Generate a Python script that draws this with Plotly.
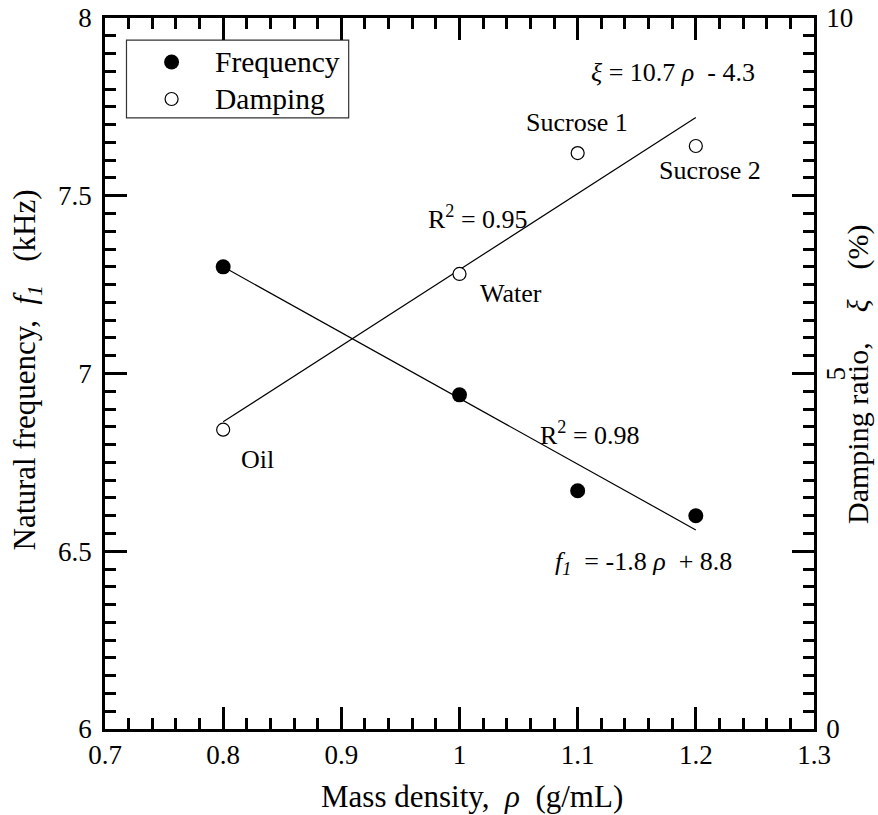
import plotly.graph_objects as go

density = [0.8, 1.0, 1.1, 1.2]
frequency = [7.30, 6.94, 6.67, 6.60]
damping = [4.21, 6.40, 8.10, 8.20]
fit_x = [0.8, 1.2]
freq_fit = [7.30, 6.56]
damp_fit = [4.32, 8.60]
legend_names = ["Frequency", "Damping"]

NB = "\u00a0"
FONT = "Liberation Serif, Times New Roman, serif"

fig = go.Figure()
fig.add_trace(go.Scatter(x=fit_x, y=freq_fit, mode="lines", line=dict(color="black", width=1.2),
                         showlegend=False, hoverinfo="skip"))
fig.add_trace(go.Scatter(x=fit_x, y=damp_fit, mode="lines", line=dict(color="black", width=1.2),
                         showlegend=False, hoverinfo="skip", yaxis="y2"))
fig.add_trace(go.Scatter(x=density, y=frequency, mode="markers", name="Frequency", showlegend=False,
                         marker=dict(color="black", size=15, symbol="circle")))
fig.add_trace(go.Scatter(x=density, y=damping, mode="markers", name="Damping", yaxis="y2", showlegend=False,
                         marker=dict(color="white", size=13, symbol="circle",
                                     line=dict(color="black", width=1.2))))

# legend (drawn in an invisible overlay axis spanning the plot area, 0..1)
leg_x = 0.0939
leg_y = [0.9381, 0.8861]
fig.add_trace(go.Scatter(x=[leg_x], y=[leg_y[0]], xaxis="x3", yaxis="y3", mode="markers", showlegend=False,
                         hoverinfo="skip", marker=dict(color="black", size=15)))
fig.add_trace(go.Scatter(x=[leg_x], y=[leg_y[1]], xaxis="x3", yaxis="y3", mode="markers", showlegend=False,
                         hoverinfo="skip", marker=dict(color="white", size=13, line=dict(color="black", width=1.2))))
fig.add_shape(type="rect", xref="paper", yref="paper", x0=0.0303, x1=0.3437, y0=0.8594, y1=0.969,
              line=dict(color="#333333", width=1.2), fillcolor="white", layer="below")
for name, ly in zip(legend_names, leg_y):
    fig.add_annotation(text=name, x=0.1517, y=ly, xref="paper", yref="paper", xanchor="left",
                       yanchor="middle", showarrow=False, font=dict(family=FONT, size=29.5, color="black"))

ann_font = dict(family=FONT, size=26, color="black")
annotations = [
    ("<i>ξ</i> = 10.7 <i>ρ</i>" + NB + " - 4.3", 1.181, 7.848),
    ("Sucrose 1", 1.0996, 7.707),
    ("Sucrose 2", 1.212, 7.572),
    ("R<sup>2</sup> = 0.95", 1.0157, 7.44),
    ("Water", 1.0436, 7.226),
    ("Oil", 0.829, 6.757),
    ("R<sup>2</sup> = 0.98", 1.1106, 6.83),
    ("<i>f</i><sub><i>1</i></sub>" + NB + " = -1.8 <i>ρ</i>" + NB + " + 8.8", 1.1555, 6.467),
]
for text, ax_, ay_ in annotations:
    fig.add_annotation(text=text, x=ax_, y=ay_, xref="x", yref="y", showarrow=False, font=ann_font)

# rotated "5" label on the right axis
fig.add_annotation(text="5", x=1.0, xref="paper", xshift=21, y=5, yref="y2", showarrow=False,
                   textangle=-90, xanchor="center", yanchor="middle",
                   font=dict(family=FONT, size=27, color="black"))

# axis titles
fig.add_annotation(text="Mass density," + NB + NB + "<i>ρ</i>" + NB + NB + "(g/mL)", x=0.5173, y=-0.0956,
                   xref="paper", yref="paper", showarrow=False,
                   font=dict(family=FONT, size=31, color="black"), xanchor="center", yanchor="middle")
fig.add_annotation(text="Natural frequency," + NB + NB + "<i>f</i><sub><i>1</i></sub>" + NB + NB + NB + "(kHz)",
                   x=-0.1094, y=0.505, xref="paper", yref="paper", showarrow=False,
                   font=dict(family=FONT, size=31, color="black"),
                   textangle=-90, xanchor="center", yanchor="middle")
fig.add_annotation(text="Damping ratio," + NB * 4 + "<i>ξ</i>" + NB * 4 + "(%)", x=1.0621, y=0.498,
                   xref="paper", yref="paper", showarrow=False,
                   font=dict(family=FONT, size=30, color="black"), textangle=-90,
                   xanchor="center", yanchor="middle")

axis_common = dict(showline=True, linecolor="black", linewidth=2.5, ticks="inside", automargin=False,
                   tickcolor="black", tickwidth=2.5, ticklen=22, showgrid=False, zeroline=False,
                   tickfont=dict(family=FONT, size=27, color="black"))

fig.update_layout(
    width=878, height=815,
    margin=dict(l=105, r=64, t=18, b=86),
    plot_bgcolor="white", paper_bgcolor="white",
    font=dict(family=FONT, color="black"),
    showlegend=False,
    xaxis=dict(range=[0.7, 1.3], tickvals=[0.7, 0.8, 0.9, 1.0, 1.1, 1.2, 1.3],
               ticktext=["0.7", "0.8", "0.9", "1", "1.1", "1.2", "1.3"], mirror="ticks",
               minor=dict(ticks="inside", dtick=0.02, ticklen=11, tickwidth=2.5, tickcolor="black"),
               **axis_common),
    yaxis=dict(range=[6, 8], tickvals=[6, 6.5, 7, 7.5, 8], ticktext=["6", "6.5", "7", "7.5", "8"],
               minor=dict(ticks="inside", dtick=0.05, ticklen=11, tickwidth=2.5, tickcolor="black"),
               ticklabelstandoff=5, **axis_common),
    yaxis2=dict(range=[0, 10], overlaying="y", side="right", tickvals=[0, 2.5, 5, 7.5, 10],
                ticktext=["0", "", "", "", "10"],
                minor=dict(ticks="inside", dtick=0.25, ticklen=11, tickwidth=2.5, tickcolor="black"),
                ticklabelstandoff=4, **axis_common),
    xaxis3=dict(overlaying="x", range=[0, 1], visible=False, fixedrange=True),
    yaxis3=dict(overlaying="y", range=[0, 1], visible=False, fixedrange=True),
)

fig.write_html("out.html", config={"displayModeBar": False},
               post_script="document.body.style.margin='0';document.body.style.padding='0';")
